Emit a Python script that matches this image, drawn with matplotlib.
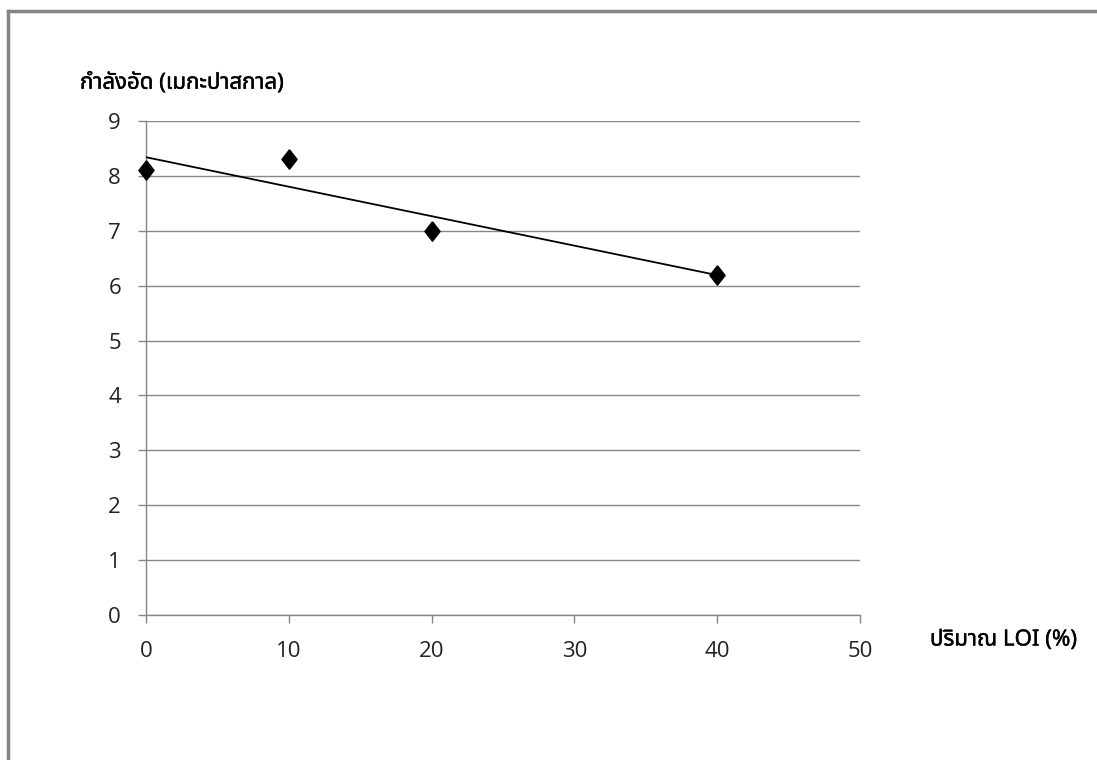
import matplotlib
matplotlib.use("Agg")
import matplotlib.pyplot as plt
import matplotlib.patheffects as pe
from matplotlib import font_manager
from matplotlib.lines import Line2D
import numpy as np

# LOI content (%) vs compressive strength (MPa)
loi_pct = [0, 10, 20, 40]
strength_mpa = [8.1, 8.3, 7.0, 6.2]

x_ticks = [0, 10, 20, 30, 40, 50]
y_ticks = [0, 1, 2, 3, 4, 5, 6, 7, 8, 9]

y_title = "กำลังอัด (เมกะปาสกาล)"
x_title = "ปริมาณ LOI (%)"

GRID = "#868686"

installed = {f.name for f in font_manager.fontManager.ttflist}
thai_fonts = [f for f in ["Noto Sans Thai", "Noto Sans Thai Looped", "Loma", "Garuda",
                          "Waree", "Tahoma", "Noto Sans", "DejaVu Sans"] if f in installed]
num_font = [f for f in ["Liberation Sans Narrow", "Open Sans", "DejaVu Sans"] if f in installed]

fig = plt.figure(figsize=(10.97, 7.6), dpi=100)
fig.patch.set_facecolor("white")
ax = fig.add_axes([0.1331, 0.1908, 0.6509, 0.65])

# trendline from a least-squares fit
slope, intercept = np.polyfit(loi_pct, strength_mpa, 1)
xs = np.array([min(loi_pct), max(loi_pct)])
ax.plot(xs, slope * xs + intercept, color="black", linewidth=1.3, zorder=3)

diamond = [(0, 1), (0.78, 0), (0, -1), (-0.78, 0), (0, 1)]
ax.plot(loi_pct, strength_mpa, linestyle="none", marker=diamond, markersize=14,
        color="black", zorder=4, clip_on=False)

ax.set_xlim(0, 50)
ax.set_ylim(0, 9)
ax.set_xticks(x_ticks)
ax.set_yticks(y_ticks)
ax.set_xticklabels([str(v) for v in x_ticks], family=num_font, fontsize=16)
ax.set_yticklabels([str(v) for v in y_ticks], family=num_font, fontsize=16)

ax.grid(axis="y", color=GRID, linewidth=1.0)
ax.set_axisbelow(True)
for s in ("top", "right"):
    ax.spines[s].set_visible(False)
for s in ("left", "bottom"):
    ax.spines[s].set_color(GRID)
    ax.spines[s].set_linewidth(1.0)
ax.tick_params(axis="both", direction="out", length=6, width=1.0, color=GRID,
               labelcolor="#222222")
ax.tick_params(axis="y", pad=12)
ax.tick_params(axis="x", pad=13)

# slight stroke to keep the Thai bold text solid
bold = [pe.withStroke(linewidth=0.3, foreground="black")]
fig.text(80 / 1097, 1 - 83 / 760, y_title, family=thai_fonts, fontsize=16,
         fontweight="bold", ha="left", va="center", path_effects=bold)
fig.text(930 / 1097, 1 - 640 / 760, x_title, family=thai_fonts, fontsize=16,
         fontweight="bold", ha="left", va="center", path_effects=bold)

# outer frame (top and left edges)
fig.add_artist(Line2D([8 / 1097, 1], [1 - 11 / 760, 1 - 11 / 760],
                      transform=fig.transFigure, color="#858585", linewidth=2.5))
fig.add_artist(Line2D([8 / 1097, 8 / 1097], [0, 1 - 11 / 760],
                      transform=fig.transFigure, color="#858585", linewidth=2.5))

fig.savefig("out.png", dpi=100, facecolor="white")
